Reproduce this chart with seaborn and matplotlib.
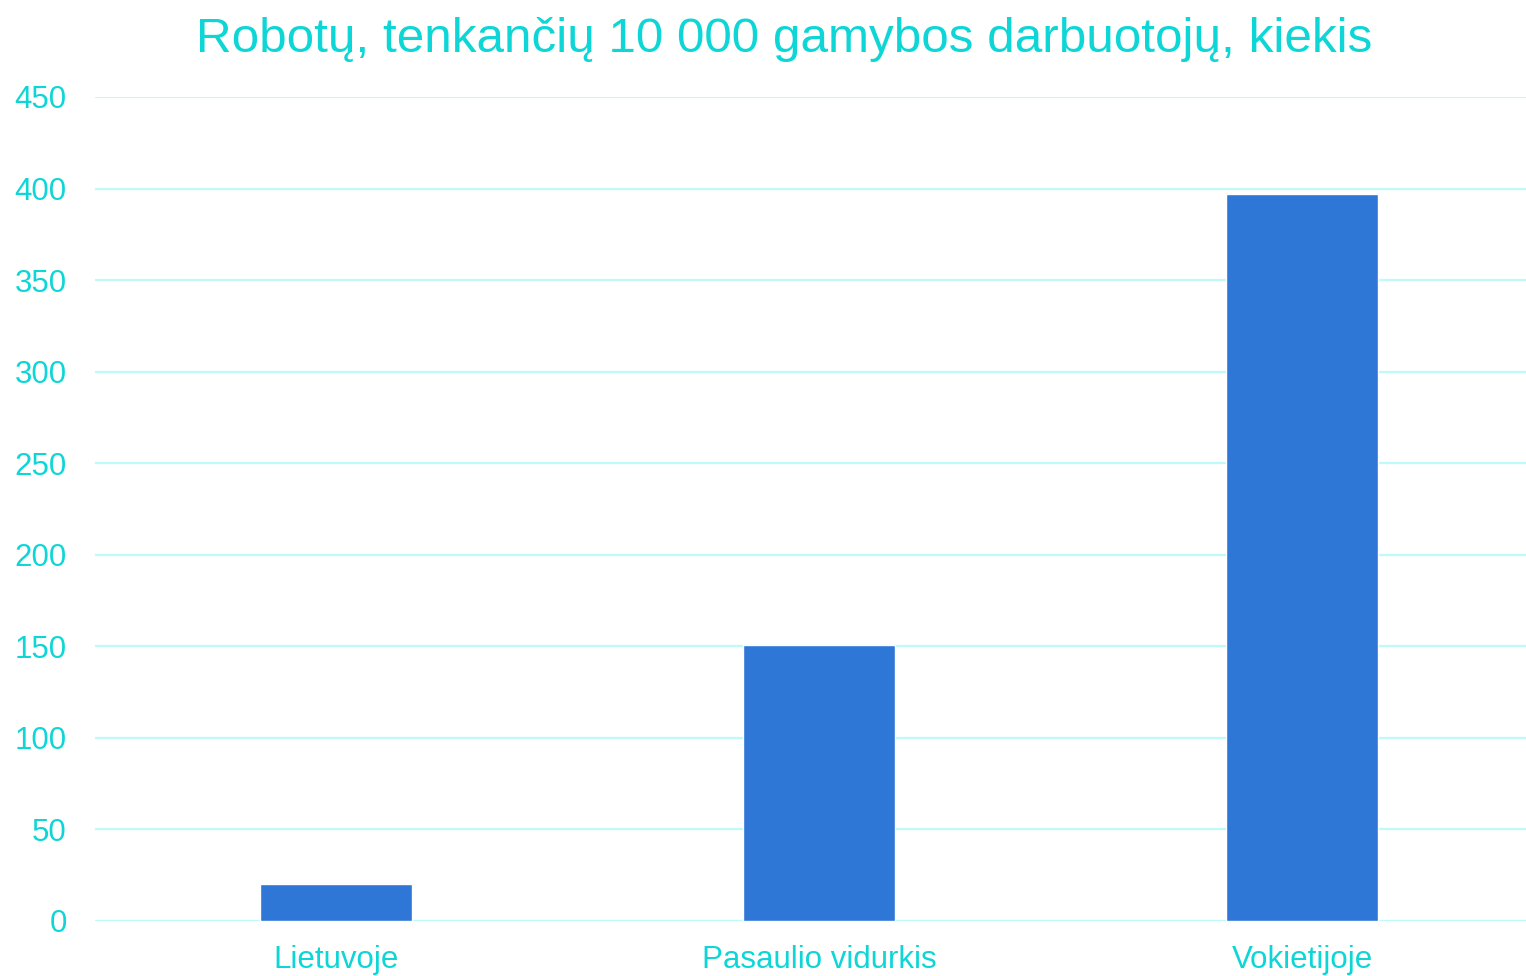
import matplotlib
matplotlib.use("Agg")
import matplotlib.pyplot as plt
import seaborn as sns
import pandas as pd

# duomenys
salys = ["Lietuvoje", "Pasaulio vidurkis", "Vokietijoje"]
robotai = [20, 151, 397]
y_ticks = [0, 50, 100, 150, 200, 250, 300, 350, 400, 450]

tekstas = "#0ED6D6"
tinklelis = "#BFFAFA"
stulpelis = "#2F77D7"

sns.set_theme(style="white")
plt.rcParams["font.family"] = ["Liberation Sans", "DejaVu Sans"]

df = pd.DataFrame({"Salis": salys, "Robotai": robotai})

fig = plt.figure(figsize=(15.26, 9.76), dpi=100)
ax = fig.add_axes([94.5 / 1526, 1 - 921 / 976, 1449 / 1526, 824 / 976])
sns.barplot(data=df, x="Salis", y="Robotai", color=stulpelis, width=0.315,
            saturation=1, ax=ax, zorder=3)

ax.set_ylim(0, 450)
ax.set_xlim(-0.5, 2.5)
ax.set_yticks(y_ticks)
ax.yaxis.grid(True, color=tinklelis, linewidth=1.6, zorder=0)
ax.set_axisbelow(True)
for s in ax.spines.values():
    s.set_visible(False)
ax.tick_params(axis="y", length=0, pad=20, labelsize=22.5, labelcolor=tekstas)
ax.tick_params(axis="x", length=0, pad=17, labelsize=22.5, labelcolor=tekstas)
ax.set_xlabel("")
ax.set_ylabel("")

fig.text(784 / 1526, 1 - 52 / 976, "Robotų, tenkančių 10 000 gamybos darbuotojų, kiekis",
         ha="center", va="baseline", fontsize=35.6, color=tekstas)

fig.savefig("out.png", dpi=100, facecolor="white")
